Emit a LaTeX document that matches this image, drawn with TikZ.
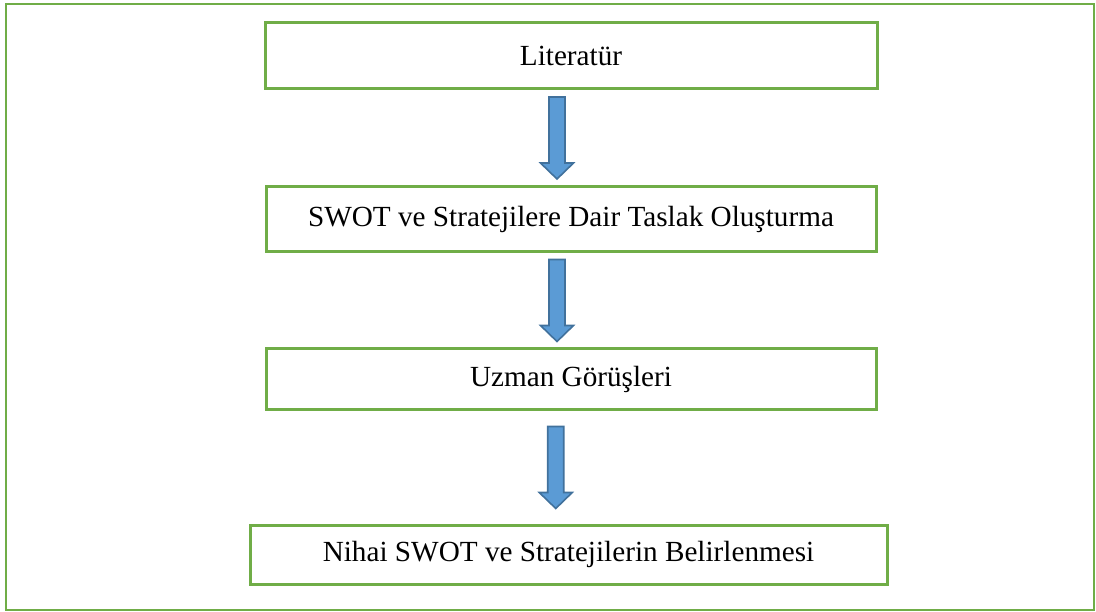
\documentclass[tikz,border=0pt]{standalone}
\usepackage{fontspec}
\setmainfont{Liberation Serif}
\usetikzlibrary{positioning,calc}
\definecolor{leaf}{HTML}{70AD47}
\definecolor{sky}{HTML}{5B9BD5}
\definecolor{skyline}{HTML}{41719C}
\tikzset{
  frame/.style={draw=leaf, line width=2.4pt},
  stepbox/.style={draw=leaf, line width=3pt, fill=white, align=center, inner sep=0pt, outer sep=0pt,
    font=\fontsize{29.2}{34}\selectfont, minimum width=610pt},
  blockarrow/.style={fill=sky, draw=skyline, line width=1.6pt, line join=miter},
}
% fat down arrow, centred between two boxes
\newcommand{\flowdown}[2]{%
  \filldraw[blockarrow] let \p1=($(#1.south)!0.5!(#2.north)+(-14,0)$) in
    (\x1-8pt,\y1+41pt) -- (\x1-8pt,\y1-25pt) -- (\x1-16.5pt,\y1-25pt) -- (\x1,\y1-41pt)
    -- (\x1+16.5pt,\y1-25pt) -- (\x1+8pt,\y1-25pt) -- (\x1+8pt,\y1+41pt) -- cycle;}

\begin{document}
\begin{tikzpicture}[x=1pt, y=-1pt]
    \useasboundingbox (0,0) rectangle (1096,612);
    \draw[frame] (6,4) rectangle (1094,610);

    \node[stepbox, minimum width=612pt, minimum height=66pt] (lit) at (571,56) {Literatür};
    \node[stepbox, minimum height=65pt, below=98pt of lit] (taslak) {SWOT ve Stratejilere Dair Taslak Oluşturma};
    \node[stepbox, minimum height=61pt, below=97pt of taslak] (uzman) {Uzman Görüşleri};
    \node[stepbox, minimum width=637pt, minimum height=59pt, below=115pt of uzman, xshift=-2.5pt] (nihai) {Nihai SWOT ve Stratejilerin Belirlenmesi};

    \flowdown{lit}{taslak}
    \flowdown{taslak}{uzman}
    \flowdown{uzman}{nihai}
\end{tikzpicture}
\end{document}
